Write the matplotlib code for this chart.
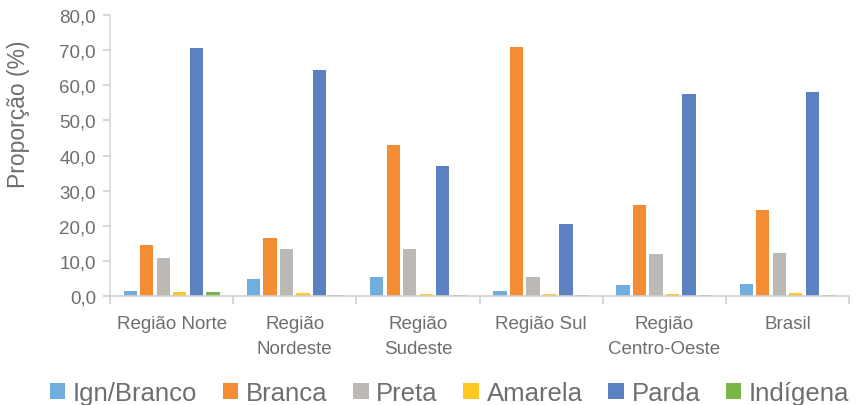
import matplotlib.pyplot as plt
import numpy as np

plt.rcParams['font.family'] = ['Liberation Sans', 'DejaVu Sans']

regions = ['Região Norte', 'Região\nNordeste', 'Região\nSudeste', 'Região Sul',
           'Região\nCentro-Oeste', 'Brasil']
series = ['Ign/Branco', 'Branca', 'Preta', 'Amarela', 'Parda', 'Indígena']

ign = [1.5, 4.7, 5.3, 1.4, 3.2, 3.4]
branca = [14.5, 16.4, 42.9, 71.0, 25.8, 24.5]
preta = [10.7, 13.4, 13.5, 5.4, 12.0, 12.1]
amarela = [1.2, 0.8, 0.6, 0.6, 0.7, 0.8]
parda = [70.7, 64.3, 37.1, 20.6, 57.4, 58.1]
indigena = [1.0, 0.3, 0.2, 0.2, 0.3, 0.4]

values = [ign, branca, preta, amarela, parda, indigena]
colors = ['#72AEDD', '#F38C33', '#BCB8B6', '#FFC823', '#5B81C1', '#7AB547']
text_color = '#6E6E6E'

fig = plt.figure(figsize=(8.56, 4.06), dpi=100)
ax = fig.add_axes([0.1285, 0.2685, 0.8635, 0.692])

x = np.arange(len(regions))
step = 0.134
width = 0.108
for i, (name, vals) in enumerate(zip(series, values)):
    ax.bar(x + (i - 2.5) * step, vals, width=width, color=colors[i],
           linewidth=0, label=name)

ax.set_xlim(-0.5, len(regions) - 0.5)
ax.set_ylim(0, 80)
ax.set_yticks(np.arange(0, 81, 10))
ax.set_yticklabels([f'{v:.1f}'.replace('.', ',') for v in np.arange(0, 81, 10)],
                   fontsize=13.5, color=text_color)
ax.set_ylabel('Proporção (%)', fontsize=16.5, color=text_color)
ax.yaxis.set_label_coords(-0.108, 0.65)

ax.set_xticks(x)
ax.set_xticklabels(regions, fontsize=13.5, color=text_color, linespacing=1.6)
ax.set_xticks(np.arange(-0.5, len(regions)), minor=True)
ax.tick_params(axis='x', which='major', length=0, pad=14)
ax.tick_params(axis='x', which='minor', length=6, color='#D0D0D0', width=1.2)
ax.tick_params(axis='y', length=5, color='#D0D0D0', width=1.2, pad=5)

for side in ['top', 'right']:
    ax.spines[side].set_visible(False)
ax.spines['left'].set_color('#D9D9D9')
ax.spines['left'].set_linewidth(1.2)
ax.spines['bottom'].set_color('#D0D0D0')
ax.spines['bottom'].set_linewidth(1.2)

leg = fig.legend(loc='center left', bbox_to_anchor=(0.058, 0.03), ncol=6,
                 frameon=False, fontsize=18.5, handlelength=0.6, handleheight=0.6,
                 handletextpad=0.3, columnspacing=1.0, borderaxespad=0,
                 borderpad=0)
for t in leg.get_texts():
    t.set_color(text_color)

fig.savefig('out.png', dpi=100)
